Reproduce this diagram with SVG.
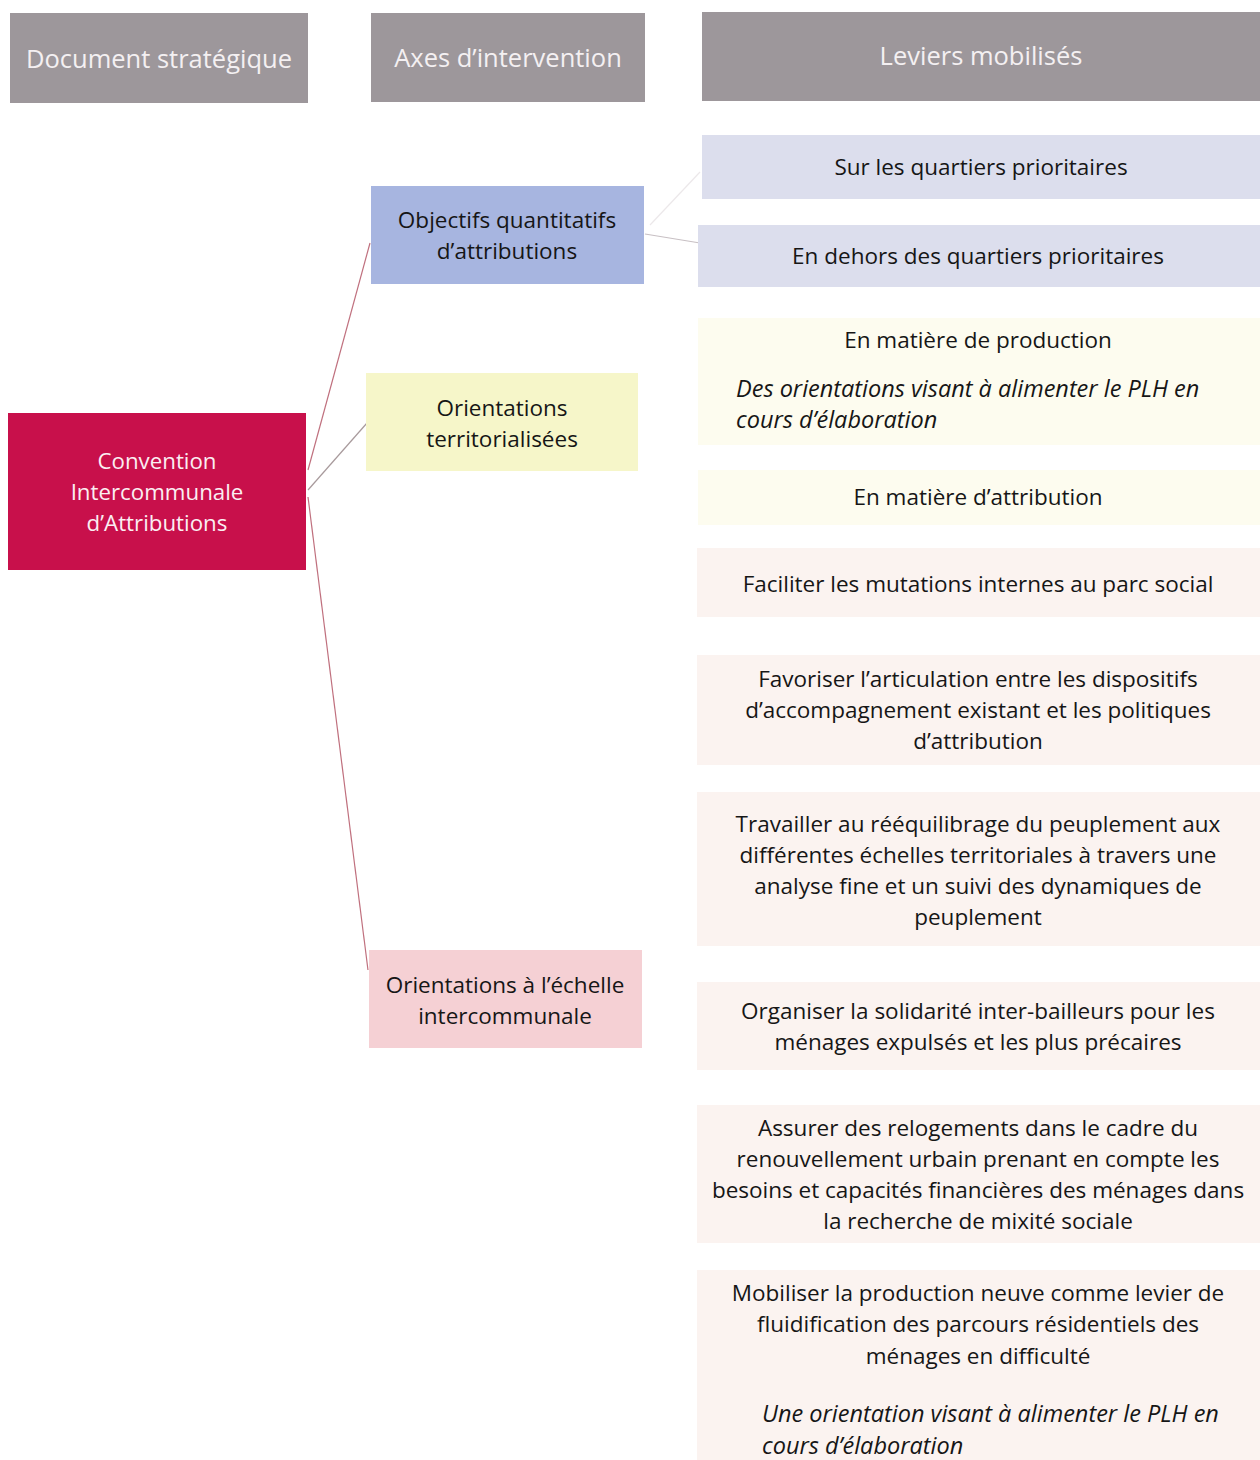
<svg xmlns="http://www.w3.org/2000/svg" width="1260" height="1460" viewBox="0 0 1260 1460">
<style>
.hdr{fill:#9d979b}
.hdrt{font-family:"Open Sans",Lato,sans-serif;font-size:25.5px;fill:#f4f0f2;text-anchor:middle}
.t{font-family:"Open Sans",Lato,sans-serif;font-size:22.5px;fill:#161616;text-anchor:middle}
.ti{font-family:"Open Sans",Lato,sans-serif;font-size:23.5px;fill:#161616;font-style:italic}
.tw{font-family:"Open Sans",Lato,sans-serif;font-size:22.3px;fill:#fbeef2;text-anchor:middle}
.lav{fill:#dcdeed}
.yel{fill:#fdfcef}
.pnk{fill:#fbf3f0}
.conn{fill:none;stroke-width:1.2}
</style>
<rect width="1260" height="1460" fill="#ffffff"/>
<g id="headers">
<g id="h-doc"><rect class="hdr" x="10" y="13" width="298" height="90"/><text class="hdrt" x="159" y="68">Document stratégique</text></g>
<g id="h-axes"><rect class="hdr" x="371" y="13" width="274" height="89"/><text class="hdrt" x="508" y="67">Axes d’intervention</text></g>
<g id="h-leviers"><rect class="hdr" x="702" y="12" width="558" height="89"/><text class="hdrt" x="981" y="65">Leviers mobilisés</text></g>
</g>
<g id="connectors">
<line class="conn" x1="308" y1="470" x2="370" y2="243" stroke="#c0707e"/>
<line class="conn" x1="308" y1="490" x2="367" y2="423" stroke="#a89a9c"/>
<line class="conn" x1="308" y1="497" x2="368" y2="970" stroke="#c0707e"/>
<line class="conn" x1="645" y1="234" x2="700" y2="243" stroke="#c8c0c4"/>
<line class="conn" x1="650" y1="225" x2="700" y2="172" stroke="#ece8ea"/>
</g>
<g id="n-cia"><rect x="8" y="413" width="298" height="157" fill="#c8104b"/>
<text class="tw" x="157" y="469">Convention</text><text class="tw" x="157" y="500">Intercommunale</text><text class="tw" x="157" y="531">d’Attributions</text></g>
<g id="n-obj"><rect x="371" y="186" width="273" height="98" fill="#a7b5e0"/>
<text class="t" x="507" y="228">Objectifs quantitatifs</text><text class="t" x="507" y="259">d’attributions</text></g>
<g id="n-terr"><rect x="366" y="373" width="272" height="98" fill="#f6f6c9"/>
<text class="t" x="502" y="416">Orientations</text><text class="t" x="502" y="447">territorialisées</text></g>
<g id="n-inter"><rect x="369" y="950" width="273" height="98" fill="#f5d0d4"/>
<text class="t" x="505" y="993">Orientations à l’échelle</text><text class="t" x="505" y="1024">intercommunale</text></g>
<g id="l-sur"><rect class="lav" x="702" y="135" width="558" height="64"/><text class="t" x="981" y="175">Sur les quartiers prioritaires</text></g>
<g id="l-hors"><rect class="lav" x="698" y="225" width="562" height="62"/><text class="t" x="978" y="264">En dehors des quartiers prioritaires</text></g>
<g id="l-prod"><rect class="yel" x="698" y="318" width="562" height="127"/>
<text class="t" x="978" y="348">En matière de production</text>
<text class="ti" x="736" y="397">Des orientations visant à alimenter le PLH en</text>
<text class="ti" x="736" y="428">cours d’élaboration</text></g>
<g id="l-attr"><rect class="yel" x="698" y="470" width="562" height="55"/><text class="t" x="978" y="505">En matière d’attribution</text></g>
<g id="l-fac"><rect class="pnk" x="697" y="548" width="563" height="69"/><text class="t" x="978" y="592">Faciliter les mutations internes au parc social</text></g>
<g id="l-fav"><rect class="pnk" x="697" y="655" width="563" height="110"/>
<text class="t" x="978" y="687">Favoriser l’articulation entre les dispositifs</text>
<text class="t" x="978" y="718">d’accompagnement  existant et les politiques</text>
<text class="t" x="978" y="749">d’attribution</text></g>
<g id="l-trav"><rect class="pnk" x="697" y="792" width="563" height="154"/>
<text class="t" x="978" y="832">Travailler au rééquilibrage du peuplement aux</text>
<text class="t" x="978" y="863">différentes échelles territoriales à travers une</text>
<text class="t" x="978" y="894">analyse fine et un suivi des dynamiques de</text>
<text class="t" x="978" y="925">peuplement</text></g>
<g id="l-org"><rect class="pnk" x="697" y="982" width="563" height="88"/>
<text class="t" x="978" y="1019">Organiser la solidarité inter-bailleurs pour les</text>
<text class="t" x="978" y="1050">ménages expulsés et les plus précaires</text></g>
<g id="l-ass"><rect class="pnk" x="697" y="1105" width="563" height="138"/>
<text class="t" x="978" y="1136">Assurer des relogements dans le cadre du</text>
<text class="t" x="978" y="1167">renouvellement urbain  prenant en compte les</text>
<text class="t" x="978" y="1198">besoins et capacités financières des ménages dans</text>
<text class="t" x="978" y="1229">la recherche de mixité sociale</text></g>
<g id="l-mob"><rect class="pnk" x="697" y="1270" width="563" height="190"/>
<text class="t" x="978" y="1301">Mobiliser la production neuve comme levier de</text>
<text class="t" x="978" y="1332">fluidification des parcours résidentiels des</text>
<text class="t" x="978" y="1364">ménages en difficulté</text>
<text class="ti" x="762" y="1422">Une orientation visant à alimenter le PLH en</text>
<text class="ti" x="762" y="1454">cours d’élaboration</text></g>
</svg>
